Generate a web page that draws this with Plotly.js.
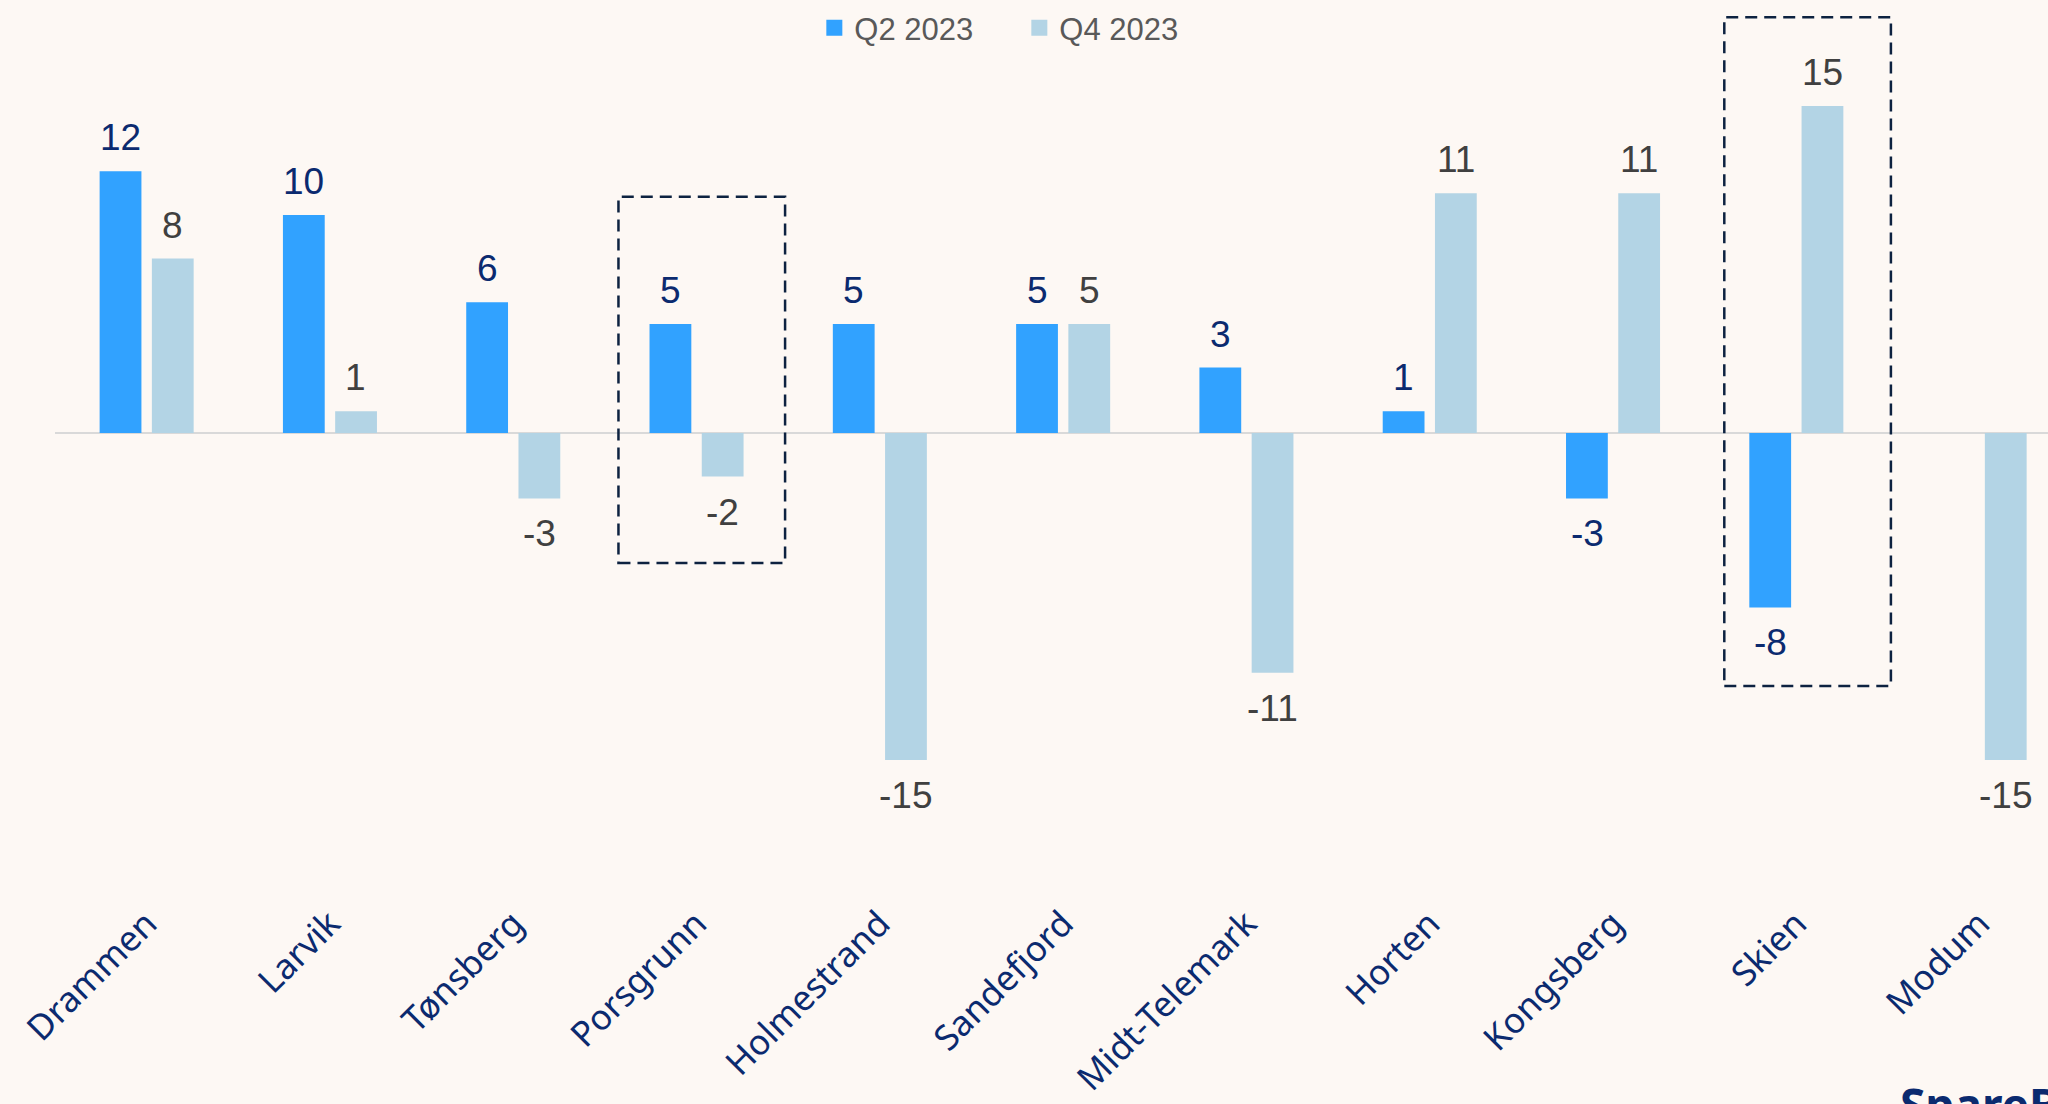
<!DOCTYPE html>
<html>
<head>
<meta charset="utf-8">
<script src="https://cdn.plot.ly/plotly-3.0.1.min.js"></script>
<style>
  html, body { margin: 0; padding: 0; background: #FDF8F4; overflow: hidden; }
  #chart { width: 2048px; height: 1104px; }
</style>
</head>
<body>
<div id="chart"></div>
<script>
// ---- data ----
const categories = ["Drammen", "Larvik", "Tønsberg", "Porsgrunn", "Holmestrand", "Sandefjord",
                    "Midt-Telemark", "Horten", "Kongsberg", "Skien", "Modum"];
const q2_2023 = [12, 10, 6, 5, 5, 5, 3, 1, -3, -8, null];
const q4_2023 = [8, 1, -3, -2, -15, 5, -11, 11, 11, 15, -15];
const seriesNames = ["Q2 2023", "Q4 2023"];
const highlighted = ["Porsgrunn", "Skien"];

// ---- styles ----
const colQ2 = "#31A2FF";
const colQ4 = "#B3D4E5";
const navy = "#0B2A6F";
const grey = "#404040";
const numFont = "Liberation Sans, Arial, sans-serif";
const catFont = "Noto Sans, Lato, sans-serif";

const traces = [
  { type: "bar", name: seriesNames[0], x: categories, y: q2_2023,
    marker: { color: colQ2 }, showlegend: false, legendgroup: "a" },
  { type: "bar", name: seriesNames[1], x: categories, y: q4_2023,
    marker: { color: colQ4 }, showlegend: false, legendgroup: "b" },
  // legend entries (square swatches)
  { type: "scatter", mode: "markers", name: seriesNames[0], x: [null], y: [null],
    marker: { color: colQ2, symbol: "square", size: 18 }, legendgroup: "a" },
  { type: "scatter", mode: "markers", name: seriesNames[1], x: [null], y: [null],
    marker: { color: colQ4, symbol: "square", size: 18 }, legendgroup: "b" }
];

// value labels
const annotations = [];
function addLabels(vals, shift, color) {
  vals.forEach((v, i) => {
    if (v === null || v === undefined) return;
    annotations.push({
      x: categories[i], y: v, xref: "x", yref: "y",
      text: String(v), showarrow: false,
      xshift: shift, yshift: v >= 0 ? 11 : -13,
      yanchor: v >= 0 ? "bottom" : "top",
      font: { family: numFont, size: 37, color: color }
    });
  });
}
addLabels(q2_2023, -26, navy);
addLabels(q4_2023, 26, grey);

// logo-like text at bottom right (cut off in the reference)
annotations.push({
  xref: "paper", yref: "paper", x: 0.9245, y: -0.198, xanchor: "left", yanchor: "top",
  text: "<b>SpareBank 1</b>", showarrow: false,
  font: { family: "Noto Sans, sans-serif", size: 46, color: "#0B2A6F" }
});

// dashed highlight boxes
const boxExt = { Porsgrunn: [-0.426, 0.483, 10.83, -5.96], Skien: [-0.393, 0.516, 19.07, -11.6] };
const shapes = highlighted.map(c => {
  const i = categories.indexOf(c);
  const e = boxExt[c];
  return {
    type: "rect", xref: "x", yref: "y",
    x0: i + e[0], x1: i + e[1], y0: e[3], y1: e[2],
    line: { color: "#0D2240", width: 2.5, dash: "12px,7px" },
    fillcolor: "rgba(0,0,0,0)", layer: "above"
  };
});

const layout = {
  width: 2048, height: 1104,
  paper_bgcolor: "#FDF8F4", plot_bgcolor: "#FDF8F4",
  margin: { l: 55, r: 0, t: 5, b: 209 },
  barmode: "group", bargap: 0.43, bargroupgap: 0.2,
  showlegend: true,
  legend: {
    orientation: "h", x: 0.381, xanchor: "left", y: 0.974, yanchor: "middle",
    font: { family: numFont, size: 31, color: "#595959" },
    bgcolor: "rgba(0,0,0,0)", entrywidth: 160, traceorder: "normal", itemsizing: "trace"
  },
  xaxis: {
    type: "category", range: [-0.5, 10.373], tickangle: -45,
    showgrid: false, showline: false, ticks: "", zeroline: false,
    tickfont: { family: catFont, size: 35, color: navy }, fixedrange: true
  },
  yaxis: {
    range: [-21.19, 19.63], showgrid: false, showticklabels: false, ticks: "",
    zeroline: true, zerolinecolor: "#D9D9D9", zerolinewidth: 2, showline: false, fixedrange: true
  },
  annotations: annotations,
  shapes: shapes
};

Plotly.newPlot("chart", traces, layout, { displayModeBar: false, staticPlot: true });
</script>
</body>
</html>
